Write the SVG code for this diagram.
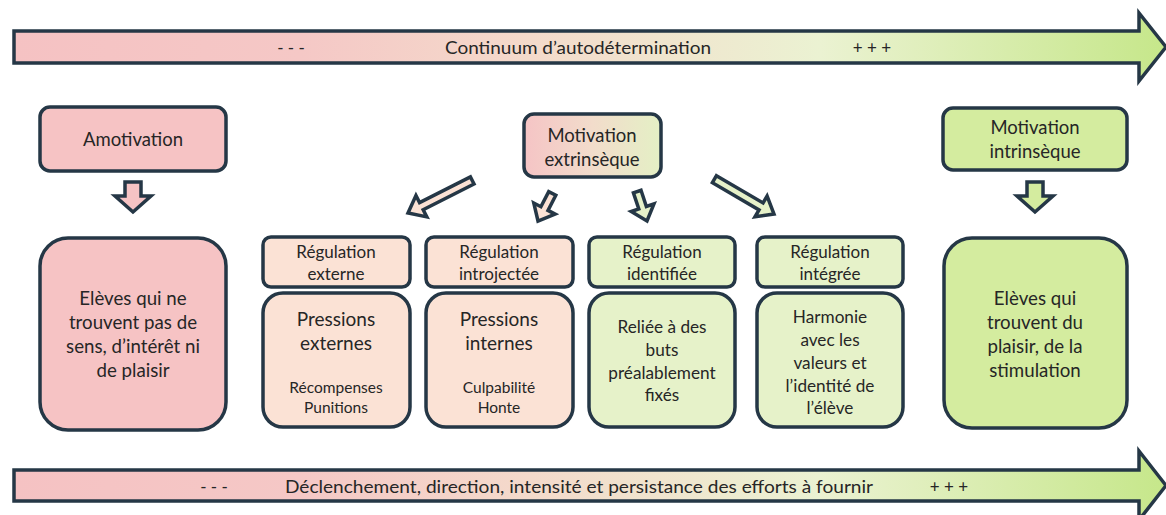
<svg xmlns="http://www.w3.org/2000/svg" width="1166" height="515" viewBox="0 0 1166 515">
  <defs>
    <linearGradient id="continuum" gradientUnits="userSpaceOnUse" x1="12" y1="0" x2="1166" y2="0">
      <stop offset="0" stop-color="#f5c2c3"/>
      <stop offset="0.25" stop-color="#f5c8c6"/>
      <stop offset="0.45" stop-color="#f4dacb"/>
      <stop offset="0.7" stop-color="#ebf2d2"/>
      <stop offset="1" stop-color="#c6e78a"/>
    </linearGradient>
    <linearGradient id="extrinsic" x1="0" y1="0" x2="1" y2="0">
      <stop offset="0" stop-color="#f5c4c5"/>
      <stop offset="0.5" stop-color="#f2dccb"/>
      <stop offset="1" stop-color="#e4f0c5"/>
    </linearGradient>
  </defs>
  <style>
    .box { stroke: #253746; stroke-width: 3.5; }
    .arrow { stroke: #253746; stroke-width: 3.5; stroke-linejoin: miter; }
    .pink { fill: #f6c3c4; }
    .peach { fill: #fbe2d5; }
    .lgreen { fill: #e6f2c9; }
    .green { fill: #d4ec9f; }
    text { font-family: Lato, "Liberation Sans", sans-serif; fill: #262626; text-anchor: middle; dominant-baseline: central; }
    .big { font-size: 18.7px; }
    .head { font-size: 18.5px; }
    .press { font-size: 19px; }
    .desc { font-size: 17.2px; }
    .reg { font-size: 17px; }
    .small { font-size: 15.5px; }
    .band { font-size: 17px; }
  </style>

  <!-- Continuum arrows (top and bottom) -->
  <g id="continuum-top">
    <polygon class="arrow" fill="url(#continuum)" points="14,31 1139,31 1139,13 1166,47 1139,81 1139,63 14,63"/>
    <text class="band" x="291" y="47">- - -</text>
    <text class="band" x="578" y="47" textLength="266" lengthAdjust="spacingAndGlyphs">Continuum d’autodétermination</text>
    <text class="band" x="872" y="47">+ + +</text>
  </g>
  <g id="continuum-bottom">
    <polygon class="arrow" fill="url(#continuum)" points="14,470 1139,470 1139,451 1166,485.5 1139,520 1139,501 14,501"/>
    <text class="band" x="214" y="486">- - -</text>
    <text class="band" x="579" y="486" textLength="588" lengthAdjust="spacingAndGlyphs">Déclenchement, direction, intensité et persistance  des efforts à fournir</text>
    <text class="band" x="949" y="486">+ + +</text>
  </g>

  <!-- Amotivation column -->
  <g id="amotivation">
    <rect class="box pink" x="40" y="107" width="186" height="64" rx="10"/>
    <text class="head" x="133" y="139">Amotivation</text>
  </g>
  <g id="amotivation-students">
    <rect class="box pink" x="40" y="238" width="186" height="192" rx="28"/>
    <text class="big" x="133" y="298">Elèves qui ne</text>
    <text class="big" x="133" y="322">trouvent pas de</text>
    <text class="big" x="133" y="346">sens, d’intérêt ni</text>
    <text class="big" x="133" y="370">de plaisir</text>
  </g>

  <!-- Extrinsic motivation -->
  <g id="extrinseque">
    <rect class="box" fill="url(#extrinsic)" x="524" y="114" width="137" height="63" rx="10"/>
    <text class="head" x="592" y="135">Motivation</text>
    <text class="head" x="592" y="159">extrinsèque</text>
  </g>

  <g id="reg-externe">
    <rect class="box peach" x="263" y="237" width="147" height="50" rx="8"/>
    <text class="reg" x="336" y="251">Régulation</text>
    <text class="reg" x="336" y="273">externe</text>
  </g>
  <g id="pressions-externes">
    <rect class="box peach" x="263" y="293" width="147" height="134" rx="20"/>
    <text class="press" x="336" y="318">Pressions</text>
    <text class="press" x="336" y="342">externes</text>
    <text class="small" x="336" y="387">Récompenses</text>
    <text class="small" x="336" y="407">Punitions</text>
  </g>

  <g id="reg-introjectee">
    <rect class="box peach" x="426" y="237" width="147" height="50" rx="8"/>
    <text class="reg" x="499" y="251">Régulation</text>
    <text class="reg" x="499" y="273">introjectée</text>
  </g>
  <g id="pressions-internes">
    <rect class="box peach" x="426" y="293" width="147" height="134" rx="20"/>
    <text class="press" x="499" y="318">Pressions</text>
    <text class="press" x="499" y="342">internes</text>
    <text class="small" x="499" y="387">Culpabilité</text>
    <text class="small" x="499" y="407">Honte</text>
  </g>

  <g id="reg-identifiee">
    <rect class="box lgreen" x="589" y="237" width="146" height="50" rx="8"/>
    <text class="reg" x="662" y="251">Régulation</text>
    <text class="reg" x="662" y="273">identifiée</text>
  </g>
  <g id="buts-fixes">
    <rect class="box lgreen" x="589" y="293" width="146" height="134" rx="20"/>
    <text class="desc" x="662" y="326">Reliée à des</text>
    <text class="desc" x="662" y="349">buts</text>
    <text class="desc" x="662" y="372">préalablement</text>
    <text class="desc" x="662" y="394">fixés</text>
  </g>

  <g id="reg-integree">
    <rect class="box lgreen" x="757" y="237" width="146" height="50" rx="8"/>
    <text class="reg" x="830" y="251">Régulation</text>
    <text class="reg" x="830" y="273">intégrée</text>
  </g>
  <g id="harmonie">
    <rect class="box lgreen" x="757" y="293" width="146" height="134" rx="20"/>
    <text class="desc" x="830" y="316">Harmonie</text>
    <text class="desc" x="830" y="339">avec les</text>
    <text class="desc" x="830" y="362">valeurs et</text>
    <text class="desc" x="830" y="385">l’identité de</text>
    <text class="desc" x="830" y="407">l’élève</text>
  </g>

  <!-- Intrinsic motivation column -->
  <g id="intrinseque">
    <rect class="box green" x="943" y="108" width="184" height="62" rx="10"/>
    <text class="head" x="1035" y="127">Motivation</text>
    <text class="head" x="1035" y="151">intrinsèque</text>
  </g>
  <g id="intrinseque-students">
    <rect class="box green" x="944" y="238" width="183" height="190" rx="28"/>
    <text class="big" x="1035" y="298">Elèves qui</text>
    <text class="big" x="1035" y="322">trouvent du</text>
    <text class="big" x="1035" y="346">plaisir, de la</text>
    <text class="big" x="1035" y="370">stimulation</text>
  </g>

  <!-- Block arrows between levels -->
  <g id="connectors">
    <polygon class="arrow pink" points="125,182 141,182 141,196 151,196 133,212 115,196 125,196"/>
    <polygon class="arrow green" points="1027,182 1043,182 1043,196 1053,196 1035,212 1017,196 1027,196"/>
    <polygon class="arrow peach" transform="translate(408,213) rotate(153.1)" points="-72,-4 -15,-4 -15,-12 0,0 -15,12 -15,4 -72,4"/>
    <polygon class="arrow peach" transform="translate(538,221) rotate(117.4)" points="-31,-4 -14,-4 -14,-12 0,0 -14,12 -14,4 -31,4"/>
    <polygon class="arrow lgreen" transform="translate(647,221) rotate(71.6)" points="-31,-4 -14,-4 -14,-12 0,0 -14,12 -14,4 -31,4"/>
    <polygon class="arrow lgreen" transform="translate(774,214) rotate(30.3)" points="-69,-4 -15,-4 -15,-12 0,0 -15,12 -15,4 -69,4"/>
  </g>
</svg>
